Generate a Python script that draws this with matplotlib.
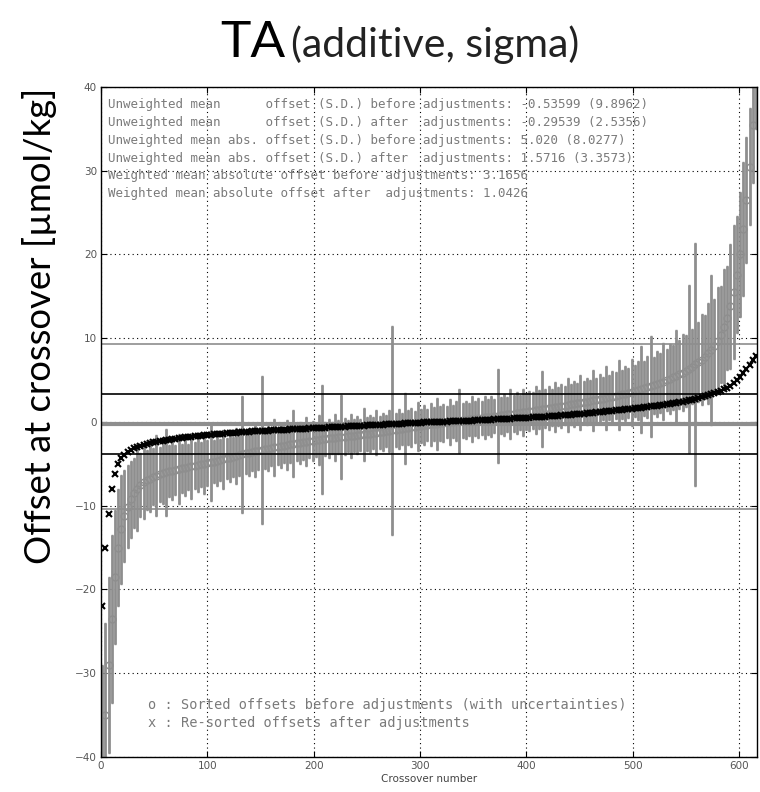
import numpy as np
import matplotlib
matplotlib.use("Agg")
import matplotlib.pyplot as plt

# ---- crossover data (every 3rd crossover) ----
crossover = list(range(1, 617, 3))

offset_before = [
    -41, -35, -29, -23.5, -18.5, -15, -12.8, -11.2, -10.1, -9.2,
    -8.5, -8.0, -7.5, -7.2,
    -6.95, -6.75, -6.55, -6.4, -6.25, -6.1, -6.0, -5.9, -5.8, -5.7,
    -5.62, -5.54, -5.46, -5.38, -5.3, -5.22, -5.14, -5.06, -4.98, -4.9,
    -4.82, -4.74, -4.66, -4.56, -4.46, -4.36, -4.26, -4.16, -4.06, -3.96,
    -3.86, -3.76, -3.67, -3.58, -3.5, -3.42, -3.34, -3.26, -3.18, -3.1,
    -3.02, -2.95, -2.88, -2.81, -2.74, -2.67, -2.6, -2.54, -2.48, -2.42,
    -2.36, -2.3, -2.24,
    -2.18, -2.12, -2.07, -2.02, -1.97, -1.92, -1.87, -1.82, -1.78, -1.74,
    -1.7, -1.66, -1.62, -1.58, -1.53, -1.48, -1.43, -1.38, -1.33, -1.28,
    -1.23, -1.18, -1.12, -1.06, -1.0, -0.94, -0.88, -0.82, -0.76, -0.7,
    -0.64, -0.58, -0.52, -0.46,
    -0.4, -0.35, -0.3, -0.25, -0.2, -0.15, -0.1, -0.05, 0.0, 0.05,
    0.1, 0.15, 0.2, 0.25, 0.3, 0.35, 0.4, 0.45, 0.5, 0.55,
    0.6, 0.65, 0.7, 0.75, 0.8, 0.85, 0.9, 0.95, 1.0, 1.06,
    1.12, 1.18, 1.24,
    1.3, 1.36, 1.42, 1.48, 1.54, 1.6, 1.66, 1.72, 1.78, 1.84,
    1.9, 1.96, 2.02, 2.09, 2.16, 2.23, 2.3, 2.37, 2.44, 2.51,
    2.58, 2.65, 2.72, 2.8, 2.88, 2.96, 3.04, 3.12, 3.2, 3.29,
    3.38, 3.47, 3.56,
    3.66, 3.77, 3.88, 4.0, 4.12, 4.25, 4.38, 4.52, 4.67, 4.82,
    4.98, 5.15, 5.32, 5.5, 5.7, 5.9, 6.12, 6.35, 6.6, 6.87,
    7.15, 7.45, 7.8, 8.2, 8.6, 9.1, 9.7, 10.4, 11.3, 12.4,
    13.8, 15.5, 17.6, 20.0, 23.0, 26.5, 30.5, 35.5, 41.0,
]

uncertainty = [
    12, 11, 10.5, 10, 8, 7, 6.5, 5.5, 5, 4.6,
    4.2, 5.0, 3.8, 4.4, 3.6, 4.0, 3.4, 4.8, 3.3, 3.7,
    5.2, 3.1, 3.5, 3.0, 4.2, 2.9, 3.4, 2.8, 3.9, 2.8,
    3.2, 2.7, 3.6, 2.7, 4.6, 2.6, 3.0, 2.5, 3.5, 2.5,
    2.9, 2.4, 3.3, 2.5, 7.0, 2.4, 2.8, 2.3, 3.1, 2.3,
    8.8, 2.3, 2.7, 2.2, 3.4, 2.2, 2.6, 2.1, 3.0, 2.2,
    4.0, 2.1, 2.5, 2.1, 2.9, 2.0, 2.4, 2.0, 3.0, 6.5,
    2.0, 2.3, 1.9, 2.8, 2.0, 5.0, 2.2, 1.9, 2.6, 2.0,
    2.3, 1.9, 3.2, 2.0, 2.2, 1.9, 2.7, 2.0, 2.3, 1.9,
    2.5, 12.5, 2.0, 2.4, 1.9, 4.2, 2.1, 2.3, 1.9, 2.9,
    2.0, 2.4, 1.9, 2.6, 2.0, 3.1, 2.1, 2.3, 1.9, 2.7,
    2.0, 2.4, 3.8, 2.1, 2.3, 2.0, 2.8, 2.1, 2.4, 2.0,
    2.6, 2.1, 2.4, 2.0, 5.6, 2.2, 2.5, 2.1, 3.0, 2.2,
    2.5, 2.1, 2.8, 2.2, 2.4, 2.2, 2.9, 2.3, 4.5, 2.3,
    2.6, 2.2, 3.0, 2.3, 2.6, 2.3, 3.2, 2.4, 2.7, 2.4,
    3.3, 2.5, 2.8, 2.5, 3.6, 2.6, 3.0, 2.6, 3.8, 2.7,
    3.1, 2.8, 4.2, 2.9, 3.3, 3.0, 4.0, 3.1, 3.5, 5.2,
    3.3, 3.7, 6.0, 3.4, 3.9, 3.6, 4.6, 3.7, 4.2, 3.9,
    5.5, 4.1, 4.6, 4.3, 10.0, 4.5, 14.5, 4.8, 5.4, 5.0,
    6.0, 9.0, 5.6, 6.4, 5.8, 7.0, 6.2, 7.5, 8.0, 7.0,
    7.5, 8.0, 7.5, 7.0, 7.0, 6.0,
]

offset_after = [
    -22, -15, -11, -8, -6.2, -5.0, -4.3, -3.9, -3.6, -3.35,
    -3.15, -3.0, -2.85, -2.72,
    -2.62, -2.53, -2.45, -2.37, -2.3, -2.23, -2.16, -2.1, -2.04, -1.98,
    -1.93, -1.88, -1.83, -1.78, -1.74, -1.7, -1.66, -1.62, -1.58, -1.54,
    -1.51, -1.48, -1.45, -1.42, -1.39, -1.36, -1.33, -1.3, -1.27, -1.24,
    -1.21, -1.18, -1.15, -1.13, -1.11, -1.09, -1.07, -1.05, -1.03, -1.01,
    -0.99, -0.97, -0.95, -0.93, -0.91, -0.89, -0.87, -0.85, -0.83, -0.81,
    -0.79, -0.77, -0.75,
    -0.73, -0.71, -0.69, -0.67, -0.65, -0.63, -0.61, -0.59, -0.57, -0.55,
    -0.53, -0.51, -0.49, -0.47, -0.45, -0.43, -0.41, -0.39, -0.37, -0.35,
    -0.33, -0.31, -0.29, -0.27, -0.25, -0.23, -0.21, -0.19, -0.17, -0.15,
    -0.13, -0.11, -0.09, -0.07,
    -0.05, -0.04, -0.02, -0.01, 0.0, 0.02, 0.03, 0.05, 0.06, 0.08,
    0.09, 0.11, 0.12, 0.14, 0.15, 0.17, 0.18, 0.2, 0.22, 0.24,
    0.26, 0.28, 0.3, 0.32, 0.34, 0.36, 0.38, 0.4, 0.42, 0.44,
    0.46, 0.48, 0.5,
    0.52, 0.54, 0.56, 0.58, 0.6, 0.63, 0.66, 0.69, 0.72, 0.75,
    0.78, 0.81, 0.84, 0.87, 0.9, 0.93, 0.96, 1.0, 1.04, 1.08,
    1.12, 1.16, 1.2, 1.24, 1.28, 1.32, 1.36, 1.4, 1.44, 1.48,
    1.52, 1.56, 1.6,
    1.64, 1.68, 1.72, 1.76, 1.8, 1.85, 1.9, 1.95, 2.0, 2.05,
    2.1, 2.16, 2.22, 2.28, 2.35, 2.42, 2.5, 2.58, 2.67, 2.76,
    2.86, 2.96, 3.07, 3.18, 3.3, 3.43, 3.57, 3.72, 3.9, 4.1,
    4.35, 4.65, 5.0, 5.4, 5.85, 6.35, 6.85, 7.35, 7.85,
]

# summary statistics printed on the chart
mean_before, sd_before = -0.53599, 9.8962
mean_after, sd_after = -0.29539, 2.5356
mabs_before, mabs_sd_before = 5.020, 8.0277
mabs_after, mabs_sd_after = 1.5716, 3.3573
wmabs_before, wmabs_after = 3.1656, 1.0426
limit_upper, limit_lower = 3.3, -3.8

x_ticks = [0, 100, 200, 300, 400, 500, 600]
y_ticks = [-40, -30, -20, -10, 0, 10, 20, 30, 40]

gray = "#8e8e8e"
text_gray = "#7a7a7a"

fig = plt.figure(figsize=(7.6, 7.92), dpi=100)
ax = fig.add_axes([0.133, 0.0442, 0.863, 0.846])

ax.set_xlim(0, 617)
ax.set_ylim(-40, 40)
ax.set_xticks(x_ticks)
ax.set_yticks(y_ticks)
ax.tick_params(direction="in", length=4, width=0.8, labelsize=7.5,
               labelcolor="#555555", pad=3, top=True, right=True)
for s in ax.spines.values():
    s.set_linewidth(1.0)
ax.grid(True, linestyle=(0, (1, 3)), color="black", linewidth=0.8)
ax.set_axisbelow(True)
ax.set_xlabel("Crossover number", fontsize=7.5, color="#444444", labelpad=2)

# reference levels
ax.axhline(mean_before + sd_before, color=gray, lw=1.2, zorder=1.5)
ax.axhline(mean_before - sd_before, color=gray, lw=1.2, zorder=1.5)
ax.axhline(mean_after, color=gray, lw=3.0, zorder=1.5)

# sorted offsets before adjustment, with uncertainties
ax.errorbar(crossover, offset_before, yerr=uncertainty, fmt="o",
            color=gray, ecolor=gray, markersize=5, mfc="none", mew=1.0,
            elinewidth=2.0, capsize=1.0, zorder=2)

ax.axhline(limit_upper, color="black", lw=1.2, zorder=2.5)
ax.axhline(limit_lower, color="black", lw=1.2, zorder=2.5)

# re-sorted offsets after adjustment
ax.plot(crossover, offset_after, "x", color="black", markersize=5,
        mew=1.5, zorder=3)

stats_lines = [
    f"Unweighted mean      offset (S.D.) before adjustments: {mean_before} ({sd_before})",
    f"Unweighted mean      offset (S.D.) after  adjustments: {mean_after} ({sd_after})",
    f"Unweighted mean abs. offset (S.D.) before adjustments: {mabs_before:.3f} ({mabs_sd_before})",
    f"Unweighted mean abs. offset (S.D.) after  adjustments: {mabs_after} ({mabs_sd_after})",
    f"Weighted mean absolute offset before adjustments: {wmabs_before}",
    f"Weighted mean absolute offset after  adjustments: {wmabs_after}",
]
for k, line in enumerate(stats_lines):
    ax.text(6.5, 37.9 - 2.13 * k, line, family="DejaVu Sans Mono",
            fontsize=9.0, color=text_gray, va="center", ha="left", zorder=4)

ax.text(44, -33.8, "o : Sorted offsets before adjustments (with uncertainties)",
        family="DejaVu Sans Mono", fontsize=9.8, color=text_gray,
        va="center", ha="left", zorder=4)
ax.text(44, -35.9, "x : Re-sorted offsets after adjustments",
        family="DejaVu Sans Mono", fontsize=9.8, color=text_gray,
        va="center", ha="left", zorder=4)

# slide-style title and axis label
fig.text(220 / 760, 1 - 57 / 792, "TA", family="Lato", fontsize=37,
         ha="left", va="baseline", color="black")
fig.text(291 / 760, 1 - 57 / 792, "(additive, sigma)", family="Lato",
         fontsize=29.5, ha="left", va="baseline", color="#222222")
fig.text(40 / 760, 1 - 326 / 792, "Offset at crossover [µmol/kg]",
         family="Lato", fontsize=26.3, rotation=90, ha="center", va="center",
         color="black")

fig.savefig("out.png", dpi=100)
